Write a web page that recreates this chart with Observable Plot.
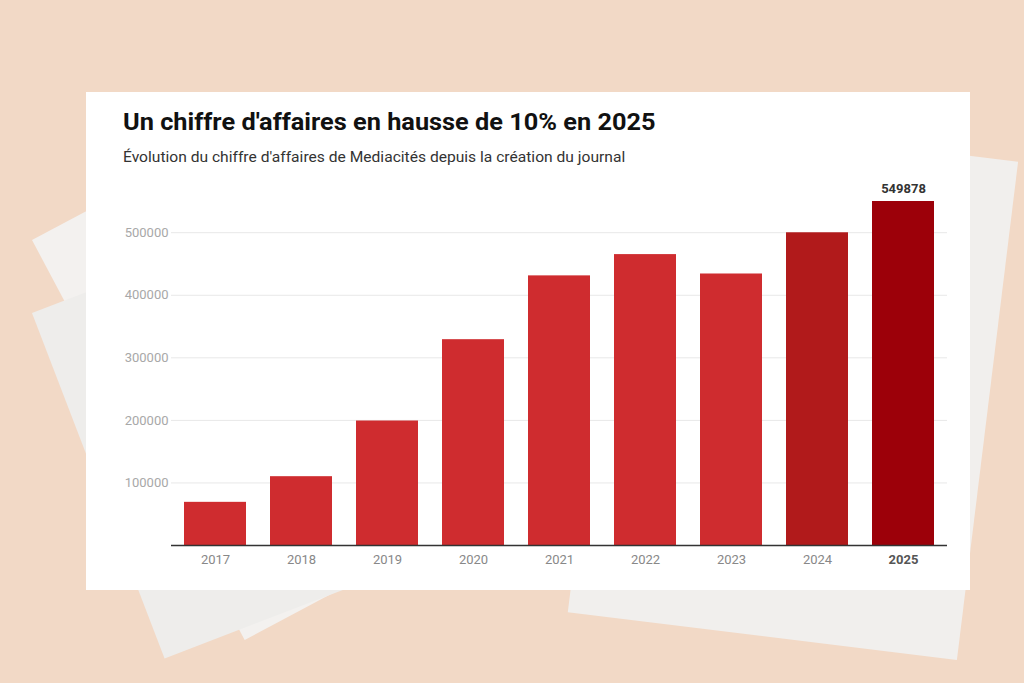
<!DOCTYPE html>
<html>
<head>
<meta charset="utf-8">
<script src="https://cdn.jsdelivr.net/npm/d3@7"></script>
<script src="https://cdn.jsdelivr.net/npm/@observablehq/plot@0.6"></script>
<style>
  html, body { margin: 0; padding: 0; }
  body { width: 1024px; height: 683px; overflow: hidden; position: relative;
         background: #f2d9c6; font-family: Roboto, "Noto Sans", sans-serif; }
  .sheet { position: absolute; transform-origin: top left; }
  #card { position: absolute; left: 86px; top: 92px; width: 884px; height: 498px; background: #fff; }
  #title { position: absolute; left: 37px; top: 16px; margin: 0; font-size: 24px; font-weight: 700; color: #111;
           white-space: nowrap; transform: scaleX(1.055); transform-origin: left center; }
  #subtitle { position: absolute; left: 37px; top: 56px; margin: 0; font-size: 15px; color: #333;
              white-space: nowrap; transform: scaleX(1.04); transform-origin: left center; }
  #chart { position: absolute; left: 0; top: 83px; }
</style>
</head>
<body>
<div class="sheet" style="left:32px;top:240px;width:250px;height:453px;transform:rotate(-28deg);background:#f3f1ef;"></div>
<div class="sheet" style="left:32px;top:313px;width:300px;height:370px;transform:rotate(-21deg);background:#eeedeb;"></div>
<div class="sheet" style="left:629px;top:114px;width:392px;height:502px;transform:rotate(7deg);background:#f1efed;"></div>
<div id="card">
  <h1 id="title">Un chiffre d'affaires en hausse de 10% en 2025</h1>
  <p id="subtitle">Évolution du chiffre d'affaires de Mediacités depuis la création du journal</p>
  <div id="chart"></div>
</div>
<script>
const years = ["2017", "2018", "2019", "2020", "2021", "2022", "2023", "2024", "2025"];
const revenue = [69000, 110000, 199000, 329000, 431000, 465000, 434000, 499889, 549878];
const yTicks = [100000, 200000, 300000, 400000, 500000];
const highlightYear = "2025";
const previousYear = "2024";

const data = years.map((y, i) => ({year: y, value: revenue[i]}));
const colorFor = y => y === highlightYear ? "#9c0009" : y === previousYear ? "#b11a1b" : "#cf2c2f";

const chart = Plot.plot({
  width: 884,
  height: 415,
  marginLeft: 85,
  marginRight: 23,
  marginTop: 26,
  marginBottom: 45,
  style: {fontFamily: "Roboto, sans-serif", fontSize: "13px", background: "transparent"},
  x: {domain: years, paddingInner: 0.28, paddingOuter: 0.14, label: null},
  y: {domain: [0, 549878], label: null},
  marks: [
    Plot.gridY(yTicks, {stroke: "#e8e8e8", strokeOpacity: 1}),
    Plot.axisY(yTicks, {tickSize: 0, tickPadding: 3, tickFormat: d3.format("d"), fill: "#a8a8a8", label: null}),
    Plot.barY(data, {x: "year", y: "value", fill: d => colorFor(d.year)}),
    Plot.ruleY([0], {stroke: "#333", strokeWidth: 1.3}),
    Plot.axisX(years.filter(y => y !== highlightYear), {tickSize: 0, tickPadding: 9, fill: "#888", label: null}),
    Plot.axisX([highlightYear], {tickSize: 0, tickPadding: 9, fill: "#555", fontWeight: "bold", label: null}),
    Plot.text(data.filter(d => d.year === highlightYear), {x: "year", y: "value", text: d => String(d.value), dy: -13, fill: "#333", fontWeight: "bold", fontSize: 13})
  ]
});
document.getElementById("chart").appendChild(chart);
</script>
</body>
</html>
